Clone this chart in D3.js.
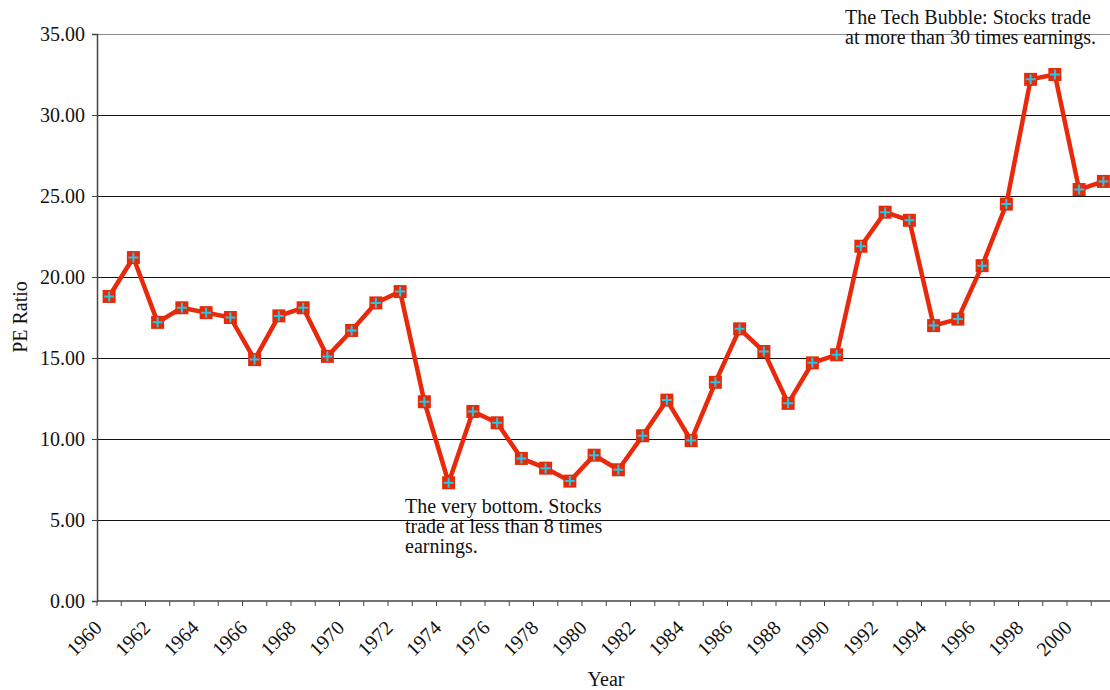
<!DOCTYPE html>
<html>
<head>
<meta charset="utf-8">
<script src="https://cdn.jsdelivr.net/npm/d3@7"></script>
<style>
  body { margin: 0; background: #fff; }
  text { font-family: "Liberation Serif", "DejaVu Serif", serif; fill: #111; }
</style>
</head>
<body>
<div class="PEChart"></div>
<script>
// PE ratio by year
var years = d3.range(1960, 2002);
var peValues = [18.8, 21.2, 17.2, 18.1, 17.8, 17.5, 14.9, 17.6, 18.1, 15.1,
                16.7, 18.4, 19.1, 12.3, 7.3, 11.7, 11.0, 8.8, 8.2, 7.4,
                9.0, 8.1, 10.2, 12.4, 9.9, 13.5, 16.8, 15.4, 12.2, 14.7,
                15.2, 21.9, 24.0, 23.5, 17.0, 17.4, 20.7, 24.5, 32.2, 32.5,
                25.4, 25.9];
var yTicks = [0, 5, 10, 15, 20, 25, 30, 35];
var xLabelYears = d3.range(1960, 2001, 2);
var bottomNote = ["The very bottom. Stocks", "trade at less than 8 times", "earnings."];
var topNote = ["The Tech Bubble: Stocks trade", "at more than 30 times earnings."];

var data = years.map(function(y, i){ return {year: y, pe: peValues[i]}; });

var W = 1110, H = 690;
var margin = {top: 34, left: 97, bottom: 89};
var plotRight = 97 + 42 * 24.25;   // category axis runs a bit past the window
var height = H - margin.top - margin.bottom;
var fs = "20px";

var svg = d3.select(".PEChart").append("svg")
    .attr("width", W)
    .attr("height", H);

var x = d3.scaleBand()
    .domain(years)
    .range([margin.left, plotRight]);

var y = d3.scaleLinear()
    .domain([0, 35])
    .range([margin.top + height, margin.top]);

// gridlines
svg.append("g").selectAll("line")
    .data(yTicks.filter(function(t){ return t > 0; }))
    .enter().append("line")
    .attr("x1", margin.left)
    .attr("x2", W)
    .attr("y1", function(d){ return Math.round(y(d)) + 0.5; })
    .attr("y2", function(d){ return Math.round(y(d)) + 0.5; })
    .attr("stroke", function(d){ return d == 35 ? "#8a8a8a" : "#111"; })
    .attr("stroke-width", 1.2);

// y axis
var yAxis = d3.axisLeft(y)
    .tickValues(yTicks)
    .tickFormat(d3.format(".2f"))
    .tickSize(5)
    .tickPadding(7);

var gy = svg.append("g")
    .attr("transform", "translate(" + margin.left + ",0)")
    .call(yAxis);
gy.select(".domain").attr("stroke", "#444").attr("stroke-width", 1.5);
gy.selectAll(".tick line").attr("stroke", "#444");
gy.selectAll("text").style("font-size", fs).attr("fill", "#111");

// x axis: ticks at category boundaries
var gx = svg.append("g")
    .attr("transform", "translate(0," + (margin.top + height) + ")");
gx.append("line")
    .attr("x1", margin.left).attr("x2", W)
    .attr("stroke", "#444").attr("stroke-width", 1.5);
gx.selectAll(".tk")
    .data(years)
    .enter().append("line")
    .attr("class", "tk")
    .attr("x1", function(d){ return x(d); })
    .attr("x2", function(d){ return x(d); })
    .attr("y1", 0).attr("y2", 5)
    .attr("stroke", "#444");
gx.selectAll(".lbl")
    .data(xLabelYears)
    .enter().append("text")
    .attr("class", "lbl")
    .attr("text-anchor", "end")
    .attr("transform", function(d){ return "translate(" + (x(d) + 6) + ",28)rotate(-45)"; })
    .style("font-size", fs)
    .text(function(d){ return d; });

// axis titles
svg.append("text")
    .attr("text-anchor", "middle")
    .attr("transform", "translate(27,317)rotate(-90)")
    .style("font-size", fs)
    .text("PE Ratio");

svg.append("text")
    .attr("text-anchor", "middle")
    .attr("x", 606)
    .attr("y", 686)
    .style("font-size", fs)
    .text("Year");

// the series
var cx = function(d){ return x(d.year) + x.bandwidth() / 2; };
var line = d3.line()
    .x(cx)
    .y(function(d){ return y(d.pe); });

svg.append("path")
    .datum(data)
    .attr("fill", "none")
    .attr("stroke", "#e8290b")
    .attr("stroke-width", 4.5)
    .attr("stroke-linejoin", "round")
    .attr("d", line);

var marks = svg.append("g").selectAll("g")
    .data(data)
    .enter().append("g")
    .attr("transform", function(d){ return "translate(" + cx(d) + "," + y(d.pe) + ")"; });
marks.append("rect")
    .attr("x", -6.5).attr("y", -6.5)
    .attr("width", 13).attr("height", 13)
    .attr("fill", "#e52a08");
marks.append("path")
    .attr("d", "M-5,0H5M0,-5V5")
    .attr("stroke", "#2ac4e4")
    .attr("stroke-width", 2);

// notes
function note(lines, x0, y0) {
  svg.append("text")
      .attr("x", x0)
      .attr("y", y0)
      .style("font-size", fs)
      .selectAll("tspan")
      .data(lines)
      .enter().append("tspan")
      .attr("x", x0)
      .attr("dy", function(d, i){ return i ? 20 : 0; })
      .text(function(d){ return d; });
}
note(bottomNote, 405, 513);
note(topNote, 845, 24);
</script>
</body>
</html>
